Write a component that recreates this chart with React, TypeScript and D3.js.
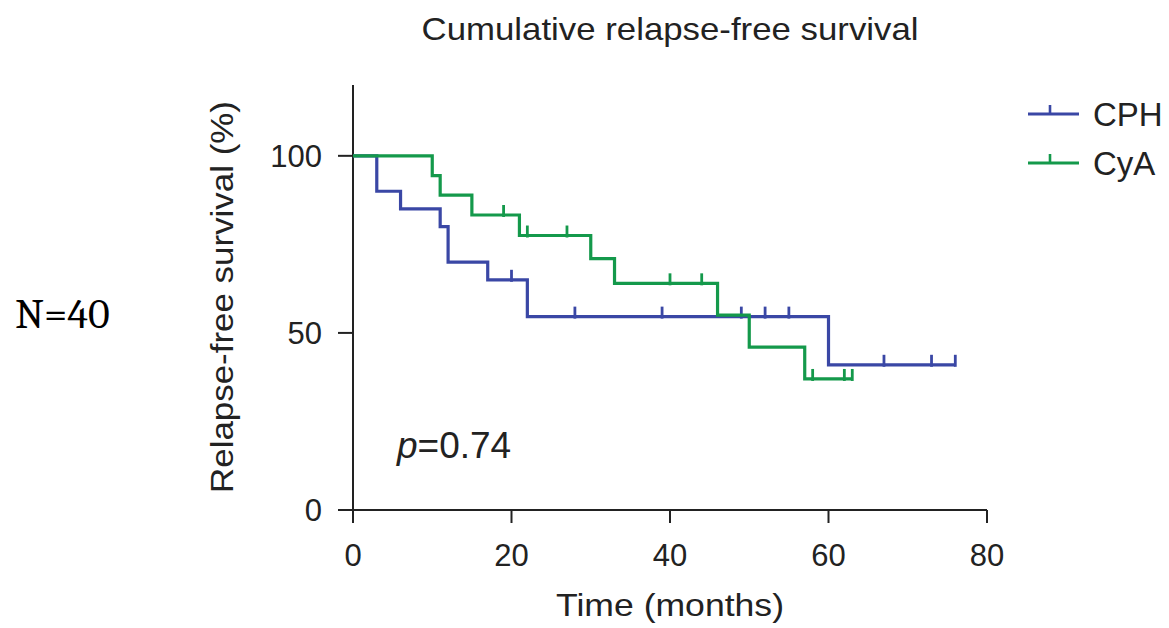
import React from "react";
import * as d3 from "d3";

const xTicks = [0, 20, 40, 60, 80];
const yTicks = [0, 50, 100];

const cphStepTimes = [0, 3, 6, 11, 12, 17, 22, 60];
const cphStepSurv = [100, 90, 85, 80, 70, 65, 54.6, 41];
const cphCensorTimes = [20, 28, 39, 49, 52, 55, 67, 73, 76];
const cphEnd = 76;

const cyaStepTimes = [0, 10, 11, 15, 21, 30, 33, 46, 50, 57];
const cyaStepSurv = [100, 94.4, 88.9, 83.3, 77.5, 71, 64, 55, 46, 37];
const cyaCensorTimes = [19, 22, 27, 40, 44, 58, 62, 63];
const cyaEnd = 63;

const seriesNames = ["CPH", "CyA"];
const seriesColors = ["#3a47a5", "#14994b"];

const W = 1169;
const H = 628;

export default function App() {
  const x = d3.scaleLinear().domain([0, 80]).range([353, 987]);
  const y = d3.scaleLinear().domain([0, 120]).range([510, 85]);

  const series = [
    { times: cphStepTimes, surv: cphStepSurv, censor: cphCensorTimes, end: cphEnd },
    { times: cyaStepTimes, surv: cyaStepSurv, censor: cyaCensorTimes, end: cyaEnd },
  ];

  const line = d3
    .line<[number, number]>()
    .x((d) => x(d[0]))
    .y((d) => y(d[1]))
    .curve(d3.curveStepAfter);

  const survAt = (times: number[], surv: number[], t: number) => {
    let v = surv[0];
    for (let i = 0; i < times.length; i++) if (times[i] <= t) v = surv[i];
    return v;
  };

  const font = "Liberation Sans, Arial, Helvetica, sans-serif";
  const textColor = "#222";

  return (
    <svg width={W} height={H} style={{ position: "absolute", left: 0, top: 0, background: "#fff" }}>
      <text x={670} y={40} textAnchor="middle" fontFamily={font} fontSize={32} fill={textColor}
        textLength={497} lengthAdjust="spacingAndGlyphs">
        Cumulative relapse-free survival
      </text>
      <text x={15} y={328} fontFamily="Cambria, 'Liberation Serif', 'DejaVu Serif', serif" fontSize={42} fill="#000">
        N=40
      </text>

      {/* axes */}
      <g stroke="#222" strokeWidth={2} fill="none">
        <line x1={x(0)} x2={x(0)} y1={y(120)} y2={y(0)} />
        <line x1={x(0)} x2={x(80)} y1={y(0)} y2={y(0)} />
        {yTicks.map((t) => (
          <line key={"yt" + t} x1={x(0) - 15} x2={x(0)} y1={y(t)} y2={y(t)} />
        ))}
        {xTicks.map((t) => (
          <line key={"xt" + t} x1={x(t)} x2={x(t)} y1={y(0)} y2={y(0) + 13} />
        ))}
      </g>
      {yTicks.map((t) => (
        <text key={"yl" + t} x={322} y={y(t)} dy="0.36em" textAnchor="end" fontFamily={font} fontSize={31} fill={textColor}>
          {t}
        </text>
      ))}
      {xTicks.map((t) => (
        <text key={"xl" + t} x={x(t)} y={566} textAnchor="middle" fontFamily={font} fontSize={31} fill={textColor}>
          {t}
        </text>
      ))}
      <text x={670} y={616} textAnchor="middle" fontFamily={font} fontSize={32} fill={textColor}
        textLength={228} lengthAdjust="spacingAndGlyphs">
        Time (months)
      </text>
      <text transform="translate(233,297) rotate(-90)" textAnchor="middle" fontFamily={font} fontSize={32} fill={textColor}
        textLength={392} lengthAdjust="spacingAndGlyphs">
        Relapse-free survival (%)
      </text>

      {/* curves */}
      {series.map((s, i) => {
        const pts: [number, number][] = s.times.map((t, j) => [t, s.surv[j]] as [number, number]);
        pts.push([s.end, s.surv[s.surv.length - 1]]);
        return (
          <g key={"s" + i}>
            <path d={line(pts) || ""} fill="none" stroke={seriesColors[i]} strokeWidth={3.2} strokeLinejoin="miter" />
            {s.censor.map((c, k) => {
              const v = survAt(s.times, s.surv, c);
              return (
                <line key={k} x1={x(c)} x2={x(c)} y1={y(v) - 10} y2={y(v) + 2} stroke={seriesColors[i]} strokeWidth={2.8} />
              );
            })}
          </g>
        );
      })}

      <text x={397} y={458} fontFamily={font} fontSize={37} fill={textColor}>
        <tspan fontStyle="italic">p</tspan>=0.74
      </text>

      {/* legend */}
      {seriesNames.map((n, i) => {
        const ly = 114 + i * 49;
        return (
          <g key={"lg" + i}>
            <line x1={1028} x2={1079} y1={ly} y2={ly} stroke={seriesColors[i]} strokeWidth={3} />
            <line x1={1050} x2={1050} y1={ly - 9} y2={ly} stroke={seriesColors[i]} strokeWidth={2.6} />
            <text x={1093} y={ly} dy="0.36em" fontFamily={font} fontSize={33} fill={textColor}>
              {n}
            </text>
          </g>
        );
      })}
    </svg>
  );
}
